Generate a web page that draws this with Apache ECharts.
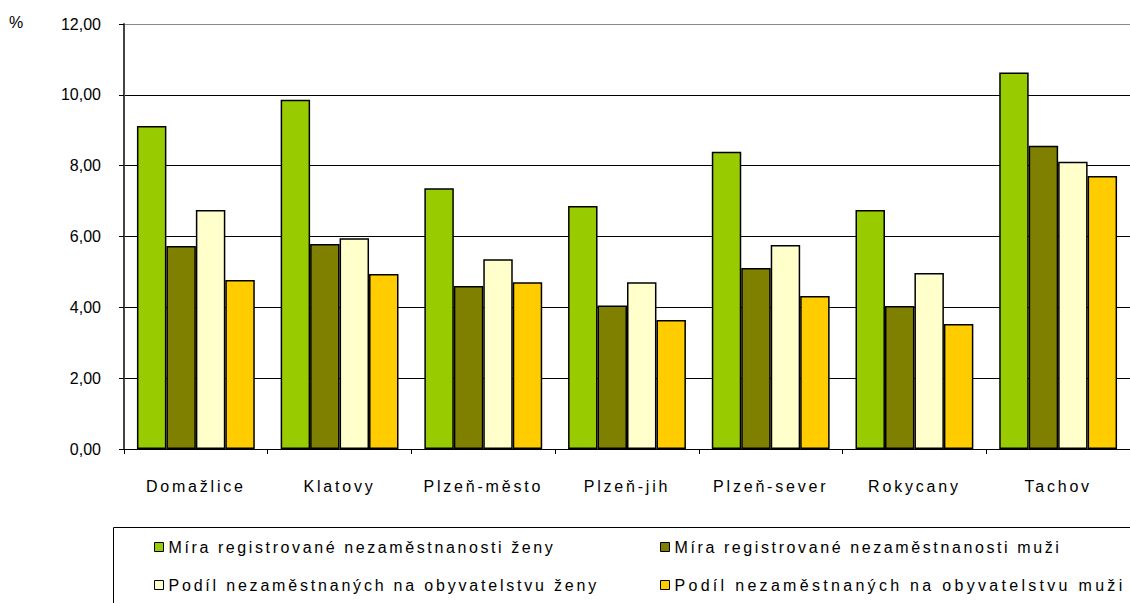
<!DOCTYPE html>
<html><head><meta charset="utf-8">
<script src="https://cdn.jsdelivr.net/npm/echarts@6/dist/echarts.min.js"></script>
<style>html,body{margin:0;padding:0;background:#fff}#c{width:1130px;height:603px}</style>
</head><body><div id="c"></div>
<script>
const categories = ['Domažlice','Klatovy','Plzeň-město','Plzeň-jih','Plzeň-sever','Rokycany','Tachov'];
const seriesNames = ['Míra registrované nezaměstnanosti ženy','Míra registrované nezaměstnanosti muži','Podíl nezaměstnaných na obyvatelstvu ženy','Podíl nezaměstnaných na obyvatelstvu muži'];
const miraZeny = [9.12, 9.86, 7.36, 6.86, 8.39, 6.75, 10.63];
const miraMuzi = [5.73, 5.79, 4.60, 4.05, 5.11, 4.04, 8.56];
const podilZeny = [6.75, 5.95, 5.36, 4.71, 5.76, 4.97, 8.11];
const podilMuzi = [4.77, 4.94, 4.71, 3.64, 4.32, 3.53, 7.71];
const colors = ['#99cc00','#808000','#ffffcc','#ffcc00'];
const values = [miraZeny, miraMuzi, podilZeny, podilMuzi];
const font = 'Liberation Sans, Arial, sans-serif';

const chart = echarts.init(document.getElementById('c'), null, {renderer:'svg'});
chart.setOption({
  animation:false,
  textStyle:{fontFamily:font,color:'#000'},
  grid:{left:124,right:-2,top:24,bottom:154,containLabel:false},
  xAxis:{type:'category',data:categories,
    axisLine:{lineStyle:{color:'#000',width:1}},
    axisTick:{show:true,length:5,lineStyle:{color:'#000'}},
    axisLabel:{color:'#000',fontSize:16,margin:29,fontFamily:font}},
  yAxis:{type:'value',min:0,max:12,interval:2,
    axisLine:{show:true,lineStyle:{color:'#444',width:2}},
    axisTick:{show:true,length:5,lineStyle:{color:'#000'}},
    axisLabel:{color:'#000',fontSize:16,margin:23,fontFamily:font,
      formatter:v=>v.toFixed(2).replace('.',',')},
    splitLine:{show:true,lineStyle:{color:['#000','#000','#000','#000','#000','#000','#888'],width:1}}},
  legend:[
    {data:[seriesNames[0],seriesNames[2]],orient:'vertical',left:154,top:539,itemGap:22,padding:0,
     itemWidth:9,itemHeight:9,icon:'rect',textStyle:{fontSize:16,color:'#000',fontFamily:font},
     itemStyle:{borderColor:'#000',borderWidth:1}},
    {data:[seriesNames[1],seriesNames[3]],orient:'vertical',left:660,top:539,itemGap:22,padding:0,
     itemWidth:9,itemHeight:9,icon:'rect',textStyle:{fontSize:16,color:'#000',fontFamily:font},
     itemStyle:{borderColor:'#000',borderWidth:1}}
  ],
  graphic:[
    {type:'rect',shape:{x:113.5,y:527.5,width:1030,height:90},style:{fill:'none',stroke:'#000',lineWidth:1},silent:true},
    {type:'text',left:9,top:14,style:{text:'%',fontSize:16,fill:'#000',fontFamily:font}}
  ],
  series: values.map((d,i)=>({
    type:'bar',name:seriesNames[i],data:d,
    barGap:'0%',barCategoryGap:'18%',
    itemStyle:{color:colors[i],borderColor:'#000',borderWidth:1.5}
  }))
});
const legendSpacing = {};
legendSpacing[seriesNames[0]] = '2.6';
legendSpacing[seriesNames[1]] = '2.6';
legendSpacing[seriesNames[2]] = '2.8';
legendSpacing[seriesNames[3]] = '3.3';
function spaceText(){
  const cats = new Set(categories);
  document.querySelectorAll('#c text').forEach(t=>{
    const s = t.textContent.trim();
    if (cats.has(s)) t.setAttribute('letter-spacing','2.8');
    else if (legendSpacing[s]) t.setAttribute('letter-spacing',legendSpacing[s]);
  });
}
spaceText();
chart.on('finished', spaceText);
setTimeout(spaceText, 50);
</script></body></html>
